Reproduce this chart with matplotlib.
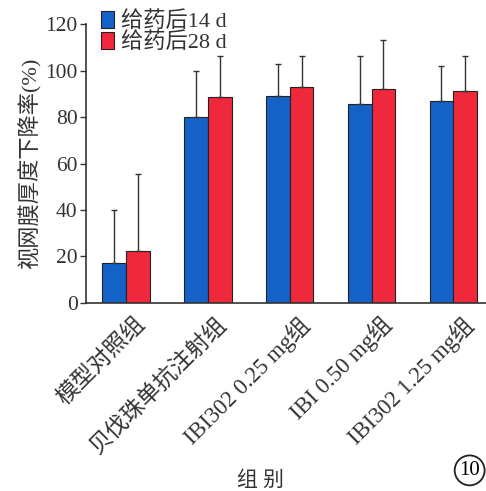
import numpy as np
import matplotlib.pyplot as plt

# group names and values
groups = ["模型对照组", "贝伐珠单抗注射组", "IBI302 0.25 mg组", "IBI 0.50 mg组", "IBI302 1.25 mg组"]
d14 = [17.3, 80.0, 89.2, 85.4, 86.7]
d14_err = [22.7, 20.0, 13.8, 20.8, 15.3]
d28 = [22.5, 88.6, 93.0, 92.2, 91.3]
d28_err = [33.0, 17.8, 13.2, 20.8, 14.9]
labels = ["给药后14 d", "给药后28 d"]
yticks = [0, 20, 40, 60, 80, 100, 120]

blue = "#1462c8"
red = "#f0283c"
serif_cjk = ["Liberation Serif", "Noto Sans CJK SC"]

fig = plt.figure(figsize=(4.86, 4.91), dpi=100)
ax = fig.add_axes([0.177, 0.383, 0.84, 0.568])

x = np.arange(len(groups))
w = 0.29
ekw = dict(ecolor="#333333", elinewidth=1.0, capsize=2.5, capthick=1.0)
ax.bar(x - w / 2, d14, w, color=blue, edgecolor="#222222", linewidth=0.8,
       yerr=[np.zeros(len(d14)), d14_err], error_kw=ekw, label=labels[0], zorder=2)
ax.bar(x + w / 2, d28, w, color=red, edgecolor="#222222", linewidth=0.8,
       yerr=[np.zeros(len(d28)), d28_err], error_kw=ekw, label=labels[1], zorder=2)

ax.set_xlim(-0.49, 4.5)
ax.set_ylim(0, 120)
ax.set_yticks(yticks)
ax.set_yticklabels([str(v) for v in yticks], family="Liberation Serif", fontsize=15.5, color="#333333")
ax.set_xticks(x + 0.1)
ax.set_xticklabels(groups, rotation=45, ha="right", rotation_mode="anchor",
                   family=serif_cjk, fontsize=16.5, color="#333333")
ax.tick_params(axis="x", length=0, pad=7)
ax.tick_params(axis="y", length=4, width=1, color="#333333", pad=2)
for s in ["top", "right"]:
    ax.spines[s].set_visible(False)
for s in ["left", "bottom"]:
    ax.spines[s].set_color("#333333")
    ax.spines[s].set_linewidth(1.2)

ax.set_ylabel("视网膜厚度下降率(%)", family=serif_cjk, fontsize=16, color="#333333", labelpad=3)
fig.text(0.535, 0.0, "组 别", family=serif_cjk, fontsize=15, color="#333333", ha="center", va="bottom")

leg = ax.legend(loc="upper left", bbox_to_anchor=(0.015, 1.08), frameon=False,
                prop={"family": serif_cjk, "size": 16}, handlelength=0.6, handleheight=0.8,
                handletextpad=0.3, labelspacing=0.0, borderaxespad=0)
for t in leg.get_texts():
    t.set_color("#333333")

fig.text(0.945, 0.042, "10", family="Liberation Serif", fontsize=15, ha="left", va="center",
         bbox=dict(boxstyle="circle,pad=0.22", fc="white", ec="#222222", lw=1.3))

fig.savefig("out.png", dpi=100)
